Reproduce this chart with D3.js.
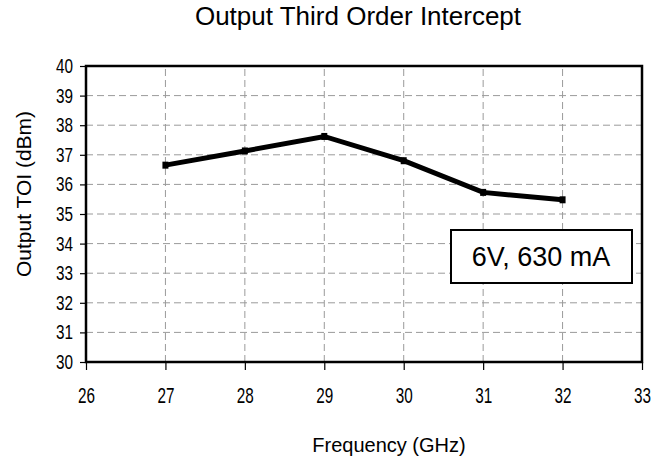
<!DOCTYPE html>
<html>
<head>
<meta charset="utf-8">
<script src="https://cdn.jsdelivr.net/npm/d3@7"></script>
<style>
  body { margin: 0; background: #fff; }
  svg text { fill: #000; }
</style>
</head>
<body>
<svg id="chart" width="667" height="458"></svg>
<script>
const freq = [27, 28, 29, 30, 31, 32];
const toi = [36.65, 37.13, 37.62, 36.8, 35.73, 35.48];
const x_ticks = [26, 27, 28, 29, 30, 31, 32, 33];
const y_ticks = [30, 31, 32, 33, 34, 35, 36, 37, 38, 39, 40];

const width = 667, height = 458;
const margin = {top: 66, right: 25, bottom: 96, left: 86};

const svg = d3.select("svg#chart");

const x = d3.scaleLinear().domain([26, 33]).range([margin.left, width - margin.right]);
const y = d3.scaleLinear().domain([30, 40]).range([height - margin.bottom, margin.top]);

const narrow = "'Liberation Sans Narrow', 'Arial Narrow', 'Liberation Sans', Arial, sans-serif";
const sans = "'Liberation Sans', Arial, sans-serif";

// grid
const grid = svg.append("g")
  .attr("stroke", "#9a9a9a")
  .attr("stroke-width", 1)
  .attr("stroke-dasharray", "7,4");

grid.selectAll("line.h")
  .data(y_ticks.slice(1, -1))
  .enter().append("line")
    .attr("x1", x(26)).attr("x2", x(33))
    .attr("y1", d => y(d)).attr("y2", d => y(d));

grid.selectAll("line.v")
  .data(x_ticks.slice(1, -1))
  .enter().append("line")
    .attr("y1", y(30)).attr("y2", y(40))
    .attr("x1", d => x(d)).attr("x2", d => x(d));

// axes
const x_axis = svg.append("g")
  .attr("transform", `translate(0,${y(30)})`)
  .call(d3.axisBottom(x).tickValues(x_ticks).tickSize(8).tickFormat(d3.format("d")));

const y_axis = svg.append("g")
  .attr("transform", `translate(${x(26)},0)`)
  .call(d3.axisLeft(y).tickValues(y_ticks).tickSize(6).tickFormat(d3.format("d")));

[x_axis, y_axis].forEach(a => {
  a.select(".domain").remove();
  a.selectAll(".tick line").attr("stroke", "#000").attr("stroke-width", 1.2);
  a.selectAll("text")
    .style("font-family", narrow)
    .attr("fill", "#000")
    .attr("textLength", 17)
    .attr("lengthAdjust", "spacingAndGlyphs");
});
x_axis.selectAll("text").style("font-size", "22px").attr("dy", null).attr("y", 41);
y_axis.selectAll("text").style("font-size", "20px").attr("x", -13);

// plot border
svg.append("rect")
  .attr("x", x(26)).attr("y", y(40))
  .attr("width", x(33) - x(26)).attr("height", y(30) - y(40))
  .attr("fill", "none")
  .attr("stroke", "#000")
  .attr("stroke-width", 2.5);

// series line
const line = d3.line()
  .x((d, i) => x(freq[i]))
  .y(d => y(d));

svg.append("path")
  .datum(toi)
  .attr("d", line)
  .attr("fill", "none")
  .attr("stroke", "#000")
  .attr("stroke-width", 5)
  .attr("stroke-linejoin", "miter");

svg.selectAll("rect.mark")
  .data(toi)
  .enter().append("rect")
    .attr("class", "mark")
    .attr("x", (d, i) => x(freq[i]) - 3)
    .attr("y", d => y(d) - 3.5)
    .attr("width", 6).attr("height", 7)
    .attr("fill", "#000");

// annotation box
svg.append("rect")
  .attr("x", 451).attr("y", 230)
  .attr("width", 181).attr("height", 53)
  .attr("fill", "#fff")
  .attr("stroke", "#000")
  .attr("stroke-width", 2);

svg.append("text")
  .attr("x", 541).attr("y", 266)
  .attr("text-anchor", "middle")
  .style("font-family", sans)
  .style("font-size", "27px")
  .text("6V, 630 mA");

// titles
svg.append("text")
  .attr("x", 358).attr("y", 25)
  .attr("text-anchor", "middle")
  .style("font-family", sans)
  .style("font-size", "26px")
  .text("Output Third Order Intercept");

svg.append("text")
  .attr("x", 389).attr("y", 452)
  .attr("text-anchor", "middle")
  .style("font-family", sans)
  .style("font-size", "20px")
  .text("Frequency (GHz)");

svg.append("text")
  .attr("transform", `translate(31,194) rotate(-90)`)
  .attr("text-anchor", "middle")
  .style("font-family", sans)
  .style("font-size", "21px")
  .text("Output TOI (dBm)");
</script>
</body>
</html>
